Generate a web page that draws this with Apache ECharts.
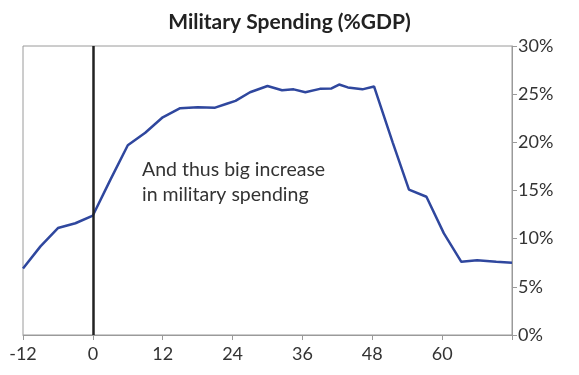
<!DOCTYPE html>
<html>
<head>
<meta charset="utf-8">
<script src="https://cdn.jsdelivr.net/npm/echarts@6/dist/echarts.min.js"></script>
<style>
	html, body { margin: 0; padding: 0; background: #fff; }
	#chart { width: 579px; height: 375px; }
</style>
</head>
<body>
<div id="chart"></div>
<script>
// months relative to the event, military spending as % of GDP
var months = [-12, -9, -6, -3, 0, 3, 6, 9, 12, 15, 18, 21, 23, 24.5, 27, 30, 32.5, 34.5, 36.5, 39, 41, 42.3, 43.8, 46.3, 48.3, 51.5, 54.3, 57.3, 60.3, 63.3, 66, 69.3, 72];
var spending = [6.9, 9.2, 11.1, 11.6, 12.4, 16.1, 19.7, 21.0, 22.6, 23.55, 23.65, 23.6, 24.0, 24.3, 25.2, 25.85, 25.4, 25.5, 25.2, 25.55, 25.6, 26.0, 25.7, 25.5, 25.8, 20.0, 15.1, 14.35, 10.55, 7.6, 7.75, 7.6, 7.5];
var xTicks = [-12, 0, 12, 24, 36, 48, 60];
var yTicks = [0, 5, 10, 15, 20, 25, 30];
var noteLines = ['And thus big increase', 'in military spending'];

var chart = echarts.init(document.getElementById('chart'));
var points = months.map(function (m, i) { return [m, spending[i]]; });
var font = 'Lato, "Open Sans", sans-serif';

chart.setOption({
	animation: false,
	title: {
		text: 'Military Spending (%GDP)',
		left: 'center',
		top: 7,
		textStyle: { fontFamily: font, fontSize: 21, fontWeight: 'bold', color: '#222' }
	},
	grid: {
		left: 23, right: 67, top: 46, bottom: 40,
		show: true, borderColor: '#9a9a9a', borderWidth: 1
	},
	xAxis: {
		type: 'value',
		min: -12, max: 72, interval: 12,
		axisLine: { show: true, onZero: false, lineStyle: { color: '#9a9a9a', width: 1 } },
		axisTick: { show: true, inside: false, length: 5, lineStyle: { color: '#9a9a9a' } },
		axisLabel: {
			color: '#333', fontFamily: font, fontSize: 18, margin: 10,
			formatter: function (v) { return xTicks.indexOf(v) >= 0 ? String(v) : ''; }
		},
		splitLine: { show: false }
	},
	yAxis: {
		type: 'value',
		position: 'right',
		min: 0, max: 30, interval: 5,
		axisLine: { show: true, onZero: false, lineStyle: { color: '#9a9a9a', width: 1 } },
		axisTick: { show: true, inside: false, length: 5, lineStyle: { color: '#9a9a9a' } },
		axisLabel: {
			color: '#333', fontFamily: font, fontSize: 18, margin: 6,
			formatter: function (v) { return yTicks.indexOf(v) >= 0 ? v + '%' : ''; }
		},
		splitLine: { show: false }
	},
	series: [{
		type: 'line',
		data: points,
		symbol: 'none',
		lineStyle: { color: '#2f479e', width: 2.5 },
		markLine: {
			silent: true,
			symbol: 'none',
			label: { show: false },
			lineStyle: { color: '#222', width: 2.5, type: 'solid' },
			data: [{ xAxis: 0 }]
		}
	}],
	graphic: [{
		type: 'text',
		left: 142,
		top: 157,
		style: {
			text: noteLines.join('\n'),
			font: '19.5px ' + font,
			lineHeight: 25,
			fill: '#333'
		}
	}]
});
</script>
</body>
</html>
